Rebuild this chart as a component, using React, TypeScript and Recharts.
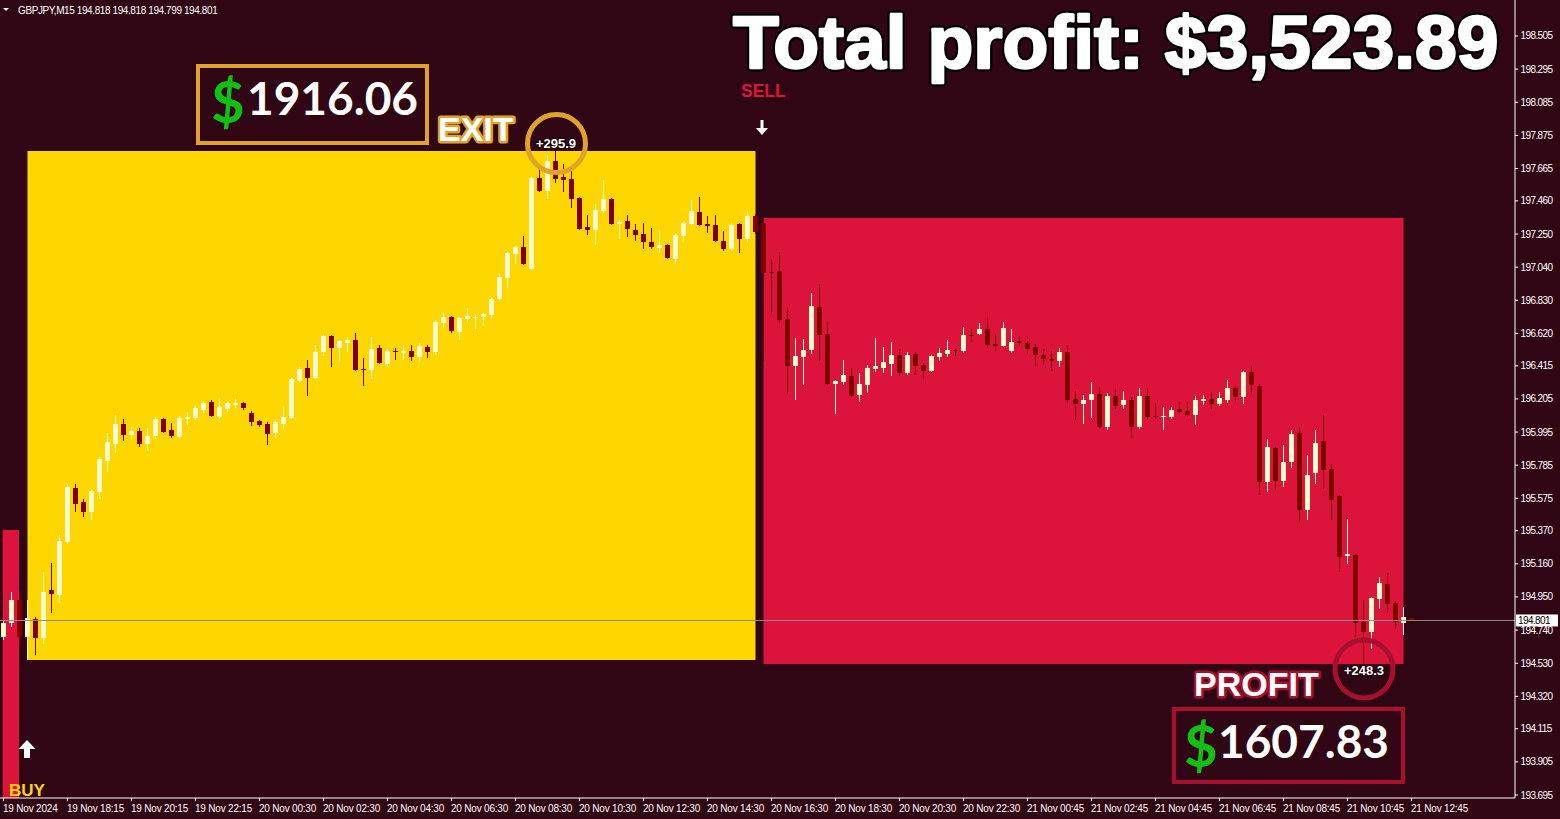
import React from 'react';
import { ComposedChart, Bar, XAxis, YAxis, ReferenceArea, ReferenceLine } from 'recharts';

// GBPJPY M15 candles (oldest first)
const opens = [
  194.698, 194.787, 194.931, 194.698, 194.811, 194.692, 194.994, 194.965, 195.299, 195.641,
  195.552, 195.489, 195.615, 195.812, 195.919, 196.046, 195.976, 196.001, 195.919, 195.970,
  196.077, 196.007, 195.963, 196.077, 196.083, 196.134, 196.185, 196.090, 196.140, 196.166,
  196.178, 196.115, 196.064, 196.045, 195.989, 196.045, 196.083, 196.318, 196.400, 196.337,
  196.502, 196.603, 196.527, 196.559, 196.578, 196.394, 196.388, 196.527, 196.426, 196.508,
  196.496, 196.508, 196.470, 196.534, 196.502, 196.686, 196.724, 196.629, 196.711, 196.718,
  196.724, 196.737, 196.838, 196.971, 197.123, 197.168, 197.028, 197.605, 197.523, 197.713,
  197.611, 197.599, 197.478, 197.295, 197.276, 197.396, 197.472, 197.314, 197.333, 197.276,
  197.250, 197.199, 197.161, 197.180, 197.092, 197.237, 197.314, 197.390, 197.314, 197.307,
  197.206, 197.155, 197.314, 197.218, 197.364, 197.320, 197.010, 197.016, 196.711, 196.414,
  196.470, 196.515, 196.787, 196.616, 196.299, 196.312, 196.350, 196.230, 196.293, 196.394,
  196.400, 196.426, 196.483, 196.369, 196.489, 196.420, 196.381, 196.470, 196.489, 196.515,
  196.508, 196.610, 196.616, 196.648, 196.553, 196.540, 196.508, 196.572, 196.559, 196.534,
  196.483, 196.458, 196.445, 196.502, 196.204, 196.172, 196.198, 196.236, 196.026, 196.223,
  196.166, 196.198, 196.026, 196.223, 196.096, 196.090, 196.090, 196.140, 196.128, 196.102,
  196.191, 196.204, 196.172, 196.198, 196.274, 196.217, 196.375, 196.286, 195.678, 195.894,
  195.685, 195.805, 195.989, 195.501, 195.735, 195.938, 195.761, 195.589, 195.210, 195.216,
  194.791, 194.728, 194.937, 195.032, 194.912, 194.785, 194.818,
];
const highs = [
  194.804, 194.982, 194.990, 194.931, 194.823, 195.109, 195.166, 195.343, 195.666, 195.666,
  195.571, 195.628, 195.837, 195.989, 196.102, 196.077, 196.026, 196.020, 196.020, 196.090,
  196.083, 196.051, 196.096, 196.121, 196.159, 196.191, 196.198, 196.210, 196.185, 196.204,
  196.185, 196.128, 196.071, 196.058, 196.064, 196.159, 196.337, 196.406, 196.451, 196.546,
  196.610, 196.610, 196.578, 196.597, 196.622, 196.464, 196.597, 196.546, 196.521, 196.527,
  196.546, 196.546, 196.559, 196.546, 196.705, 196.756, 196.730, 196.724, 196.781, 196.743,
  196.749, 196.844, 196.997, 197.136, 197.174, 197.237, 197.611, 197.656, 197.751, 197.776,
  197.694, 197.649, 197.485, 197.371, 197.440, 197.592, 197.478, 197.339, 197.371, 197.314,
  197.320, 197.288, 197.276, 197.187, 197.250, 197.326, 197.466, 197.485, 197.364, 197.371,
  197.269, 197.320, 197.320, 197.396, 197.377, 197.352, 197.092, 197.136, 196.787, 196.591,
  196.584, 196.876, 196.933, 196.692, 196.325, 196.451, 196.400, 196.369, 196.420, 196.591,
  196.534, 196.565, 196.521, 196.502, 196.502, 196.432, 196.483, 196.527, 196.578, 196.521,
  196.660, 196.648, 196.686, 196.718, 196.616, 196.692, 196.648, 196.603, 196.565, 196.553,
  196.521, 196.508, 196.527, 196.546, 196.255, 196.229, 196.312, 196.280, 196.242, 196.261,
  196.255, 196.217, 196.274, 196.274, 196.178, 196.153, 196.153, 196.185, 196.185, 196.223,
  196.229, 196.248, 196.248, 196.325, 196.286, 196.381, 196.414, 196.299, 195.951, 195.900,
  195.913, 196.007, 196.026, 195.850, 196.007, 196.102, 195.792, 195.597, 195.444, 195.222,
  194.931, 194.950, 195.077, 195.102, 194.925, 194.886, 194.818,
];
const lows = [
  194.677, 194.762, 194.635, 194.550, 194.583, 194.652, 194.850, 194.914, 195.295, 195.491,
  195.459, 195.438, 195.571, 195.742, 195.862, 195.938, 195.951, 195.900, 195.875, 195.951,
  195.989, 195.957, 195.957, 196.039, 196.071, 196.115, 196.090, 196.077, 196.121, 196.147,
  196.134, 196.032, 196.026, 195.913, 195.957, 196.013, 196.077, 196.311, 196.223, 196.330,
  196.476, 196.406, 196.438, 196.502, 196.381, 196.286, 196.330, 196.428, 196.406, 196.451,
  196.451, 196.445, 196.438, 196.464, 196.483, 196.654, 196.622, 196.578, 196.692, 196.648,
  196.667, 196.718, 196.832, 196.908, 197.060, 197.054, 197.022, 197.516, 197.472, 197.573,
  197.516, 197.415, 197.276, 197.244, 197.180, 197.383, 197.307, 197.218, 197.231, 197.206,
  197.155, 197.155, 197.130, 197.092, 197.060, 197.199, 197.307, 197.301, 197.256, 197.199,
  197.142, 197.149, 197.130, 197.199, 197.250, 196.445, 196.743, 196.692, 196.236, 196.198,
  196.293, 196.490, 196.445, 196.293, 196.109, 196.293, 196.217, 196.185, 196.242, 196.375,
  196.369, 196.350, 196.350, 196.356, 196.356, 196.337, 196.375, 196.445, 196.470, 196.477,
  196.496, 196.565, 196.610, 196.527, 196.508, 196.534, 196.496, 196.540, 196.489, 196.414,
  196.420, 196.381, 196.407, 196.185, 196.071, 196.046, 196.083, 196.020, 196.007, 196.140,
  196.140, 195.957, 196.013, 196.071, 196.083, 196.007, 196.077, 196.115, 196.090, 196.039,
  196.166, 196.140, 196.159, 196.178, 196.185, 196.172, 196.236, 195.597, 195.615, 195.628,
  195.647, 195.767, 195.425, 195.438, 195.666, 195.634, 195.438, 195.107, 195.159, 194.697,
  194.525, 194.620, 194.873, 194.848, 194.747, 194.709, 194.799,
];
const closes = [
  194.787, 194.931, 194.698, 194.817, 194.692, 194.982, 194.971, 195.305, 195.647, 195.541,
  195.489, 195.622, 195.825, 195.932, 196.046, 195.976, 196.001, 195.919, 195.970, 196.077,
  195.995, 195.970, 196.083, 196.090, 196.147, 196.178, 196.096, 196.153, 196.178, 196.178,
  196.147, 196.058, 196.039, 195.982, 196.058, 196.090, 196.330, 196.394, 196.337, 196.502,
  196.603, 196.527, 196.572, 196.578, 196.388, 196.388, 196.521, 196.432, 196.508, 196.502,
  196.508, 196.470, 196.540, 196.502, 196.692, 196.724, 196.635, 196.718, 196.730, 196.724,
  196.743, 196.838, 196.978, 197.130, 197.168, 197.060, 197.605, 197.523, 197.713, 197.599,
  197.592, 197.472, 197.282, 197.276, 197.402, 197.472, 197.314, 197.326, 197.282, 197.244,
  197.199, 197.168, 197.180, 197.098, 197.244, 197.320, 197.396, 197.307, 197.301, 197.206,
  197.155, 197.307, 197.218, 197.364, 197.262, 197.003, 197.003, 196.705, 196.414, 196.477,
  196.515, 196.794, 196.610, 196.299, 196.318, 196.356, 196.223, 196.299, 196.400, 196.414,
  196.439, 196.483, 196.369, 196.483, 196.414, 196.381, 196.477, 196.496, 196.515, 196.508,
  196.610, 196.603, 196.648, 196.546, 196.540, 196.654, 196.565, 196.559, 196.521, 196.483,
  196.458, 196.445, 196.502, 196.198, 196.172, 196.198, 196.236, 196.026, 196.223, 196.159,
  196.198, 196.026, 196.223, 196.090, 196.090, 196.096, 196.134, 196.121, 196.102, 196.198,
  196.204, 196.172, 196.210, 196.274, 196.217, 196.375, 196.293, 195.678, 195.900, 195.685,
  195.805, 195.982, 195.501, 195.723, 195.925, 195.755, 195.565, 195.203, 195.222, 194.785,
  194.728, 194.944, 195.039, 194.906, 194.791, 194.823, 194.801,
];

// one label every 8 bars, first one on bar 0
const timeLabels = [
  '19 Nov 2024', '19 Nov 18:15', '19 Nov 20:15', '19 Nov 22:15', '20 Nov 00:30', '20 Nov 02:30',
  '20 Nov 04:30', '20 Nov 06:30', '20 Nov 08:30', '20 Nov 10:30', '20 Nov 12:30', '20 Nov 14:30',
  '20 Nov 16:30', '20 Nov 18:30', '20 Nov 20:30', '20 Nov 22:30', '21 Nov 00:45', '21 Nov 02:45',
  '21 Nov 04:45', '21 Nov 06:45', '21 Nov 08:45', '21 Nov 10:45', '21 Nov 12:45',
];
const labelStep = 8;

const priceTicks = [
  198.505, 198.295, 198.085, 197.875, 197.665, 197.46, 197.25, 197.04, 196.83, 196.62, 196.415, 196.205,
  195.995, 195.785, 195.575, 195.37, 195.16, 194.95, 194.74, 194.53, 194.32, 194.115, 193.905, 193.695,
];

// trade boxes: [first bar, last bar, top price, bottom price]
const buyBox = [3, 94, 197.776, 194.55];
const sellBox = [95, 175, 197.352, 194.525];
const prevBox = [-0.1, 1.94, 195.374, 193.5];

const headerText = 'GBPJPY,M15  194.818 194.818 194.799 194.801';

const BG = '#300514';
const BULL = '#fffacd';
const BEAR = '#800000';
const GOLD = '#ffd700';
const CRIMSON = '#dc143c';
const ORANGE = '#dfa22a';
const DARKRED = '#a60f2e';
const GREEN = '#12c012';
const AXIS_FONT = '"Liberation Sans", Arial, sans-serif';

const rows = opens.map((o, i) => ({
  i,
  o,
  h: highs[i],
  l: lows[i],
  c: closes[i],
  range: [lows[i], highs[i]],
}));

const xTicks = timeLabels.map((_, j) => j * labelStep);

const Candle = (props: any) => {
  const { x, y, width, height, payload } = props;
  if (x == null || !payload) return null;
  const { o, h, l, c } = payload;
  const top = Math.min(y, y + height);
  const bot = Math.max(y, y + height);
  const span = h - l || 1e-9;
  const py = (v: number) => top + ((h - v) / span) * (bot - top);
  const cx = x + width / 2;
  const color = c >= o ? BULL : BEAR;
  const bTop = Math.round(py(Math.max(o, c)));
  const bBot = Math.max(Math.round(py(Math.min(o, c))), bTop + 1);
  const wTop = Math.round(top);
  const wBot = Math.max(Math.round(bot), wTop + 1);
  return (
    <g>
      <rect x={Math.round(cx - 0.5)} y={wTop} width={1} height={wBot - wTop} fill={color} />
      <rect x={Math.round(cx - 2.5)} y={bTop} width={5} height={bBot - bTop} fill={color} />
    </g>
  );
};

const XTick = (props: any) => {
  const { x, y, payload } = props;
  const label = timeLabels[Math.round(payload.value / labelStep)];
  return (
    <text x={x - 0.5} y={y + 8.5} fill="#ffffff" fontSize={10} fontFamily={AXIS_FONT} letterSpacing={-0.2} textAnchor="start">
      {label}
    </text>
  );
};

const YTick = (props: any) => {
  const { x, y, payload } = props;
  return (
    <text x={x + 0.5} y={y + 3.5} fill="#ffffff" fontSize={10} fontFamily={AXIS_FONT} letterSpacing={-0.6} textAnchor="start">
      {Number(payload.value).toFixed(3)}
    </text>
  );
};

const PriceTag = (props: any) => {
  const vb = props.viewBox || {};
  const x = vb.x + vb.width + 1;
  const y = vb.y;
  return (
    <g>
      <rect x={x} y={y - 6} width={42} height={12} fill="#ffffff" />
      <text x={x + 2} y={y + 3.5} fill="#000000" fontSize={10} fontFamily={AXIS_FONT} letterSpacing={-0.6}>
        {closes[closes.length - 1].toFixed(3)}
      </text>
    </g>
  );
};

const outlined = (stroke: string, w: number) => ({
  stroke,
  strokeWidth: w,
  paintOrder: 'stroke' as const,
  strokeLinejoin: 'round' as const,
});

const Overlay = () => (
  <svg width={1560} height={819} style={{ position: 'absolute', left: 0, top: 0, pointerEvents: 'none' }}>
    {/* header */}
    <polygon points="3,8 9,8 6,11" fill="#ffffff" />
    <text x={18} y={14} fill="#ffffff" fontSize={10} fontFamily={AXIS_FONT} letterSpacing={-0.4}>
      {headerText}
    </text>

    {/* total */}
    <text x={733} y={68} fontSize={75} fontWeight={700} fontFamily={AXIS_FONT} fill="#ffffff" {...outlined('#000000', 7)}>
      Total profit: $3,523.89
    </text>
    <text x={733} y={68} fontSize={75} fontWeight={700} fontFamily={AXIS_FONT} fill="#ffffff" stroke="#ffffff" strokeWidth={2.5} strokeLinejoin="round">
      Total profit: $3,523.89
    </text>

    {/* buy side result */}
    <rect x={198} y={66} width={229} height={77} fill="none" stroke={ORANGE} strokeWidth={4} />
    <text x={211} y={123} fontSize={58} fontWeight={700} fontFamily="Lato, sans-serif" fill={GREEN}>$</text>
    <text x={247} y={115} fontSize={46} fontWeight={700} fontFamily="Lato, sans-serif" fill="#ffffff">1916.06</text>
    <text x={438} y={141} fontSize={34} fontWeight={700} fontFamily={AXIS_FONT} fill="#ffffff" {...outlined(ORANGE, 5)}>EXIT</text>
    <circle cx={556.5} cy={143.5} r={29} fill="none" stroke={ORANGE} strokeWidth={5} />
    <text x={556} y={148} fontSize={13} fontWeight={700} fontFamily={AXIS_FONT} fill="#ffffff" textAnchor="middle" {...outlined('#1a0208', 2)}>+295.9</text>

    {/* sell marker */}
    <text x={741} y={97} fontSize={17.5} fontWeight={700} fontFamily={AXIS_FONT} fill={CRIMSON}>SELL</text>
    <polygon points="760.5,120 763.5,120 763.5,128 768,128 762,135 756,128 760.5,128" fill="#ffffff" />

    {/* buy marker */}
    <polygon points="27,740 35.5,749 30,749 30,758 24,758 24,749 18.5,749" fill="#ffffff" />
    <text x={9} y={795.5} fontSize={17} fontWeight={700} fontFamily={AXIS_FONT} fill={GOLD}>BUY</text>

    {/* sell side result */}
    <text x={1194} y={696} fontSize={34} fontWeight={700} fontFamily={AXIS_FONT} fill="#ffffff" {...outlined(DARKRED, 5)}>PROFIT</text>
    <circle cx={1364} cy={669} r={29} fill="none" stroke={DARKRED} strokeWidth={5} />
    <text x={1364} y={675} fontSize={13} fontWeight={700} fontFamily={AXIS_FONT} fill="#ffffff" textAnchor="middle" {...outlined('#1a0208', 2)}>+248.3</text>
    <rect x={1174} y={709} width={229} height={73} fill="none" stroke={DARKRED} strokeWidth={4} />
    <text x={1184} y={767} fontSize={58} fontWeight={700} fontFamily="Lato, sans-serif" fill={GREEN}>$</text>
    <text x={1218} y={758} fontSize={46} fontWeight={700} fontFamily="Lato, sans-serif" fill="#ffffff">1607.83</text>
  </svg>
);

export default function App() {
  return (
    <div style={{ position: 'absolute', left: 0, top: 0, width: 1560, height: 819, background: BG, overflow: 'hidden' }}>
      <ComposedChart width={1560} height={819} data={rows} margin={{ top: 0, right: 0, bottom: 0, left: 0 }}>
        <XAxis
          type="number"
          dataKey="i"
          domain={[-0.4375, 188.9375]}
          allowDataOverflow
          ticks={xTicks}
          interval={0}
          height={21}
          tickSize={3}
          tickMargin={2}
          axisLine={{ stroke: '#ffffff' }}
          tickLine={{ stroke: '#ffffff' }}
          tick={<XTick />}
        />
        <YAxis
          orientation="right"
          type="number"
          domain={[193.676, 198.733]}
          allowDataOverflow
          ticks={priceTicks}
          interval={0}
          width={45}
          tickSize={3}
          tickMargin={2}
          axisLine={{ stroke: '#ffffff' }}
          tickLine={{ stroke: '#ffffff' }}
          tick={<YTick />}
        />
        <ReferenceArea x1={prevBox[0]} x2={prevBox[1]} y1={prevBox[2]} y2={prevBox[3]} fill={CRIMSON} fillOpacity={1} stroke="none" ifOverflow="hidden" />
        <ReferenceArea x1={buyBox[0]} x2={buyBox[1]} y1={buyBox[2]} y2={buyBox[3]} fill={GOLD} fillOpacity={1} stroke="none" ifOverflow="hidden" />
        <ReferenceArea x1={sellBox[0]} x2={sellBox[1]} y1={sellBox[2]} y2={sellBox[3]} fill={CRIMSON} fillOpacity={1} stroke="none" ifOverflow="hidden" />
        <ReferenceLine y={closes[closes.length - 1]} stroke="#8c8c8c" strokeWidth={1} label={<PriceTag />} />
        <Bar dataKey="range" shape={(p: any) => <Candle {...p} />} isAnimationActive={false} barSize={8} />
      </ComposedChart>
      <Overlay />
    </div>
  );
}
